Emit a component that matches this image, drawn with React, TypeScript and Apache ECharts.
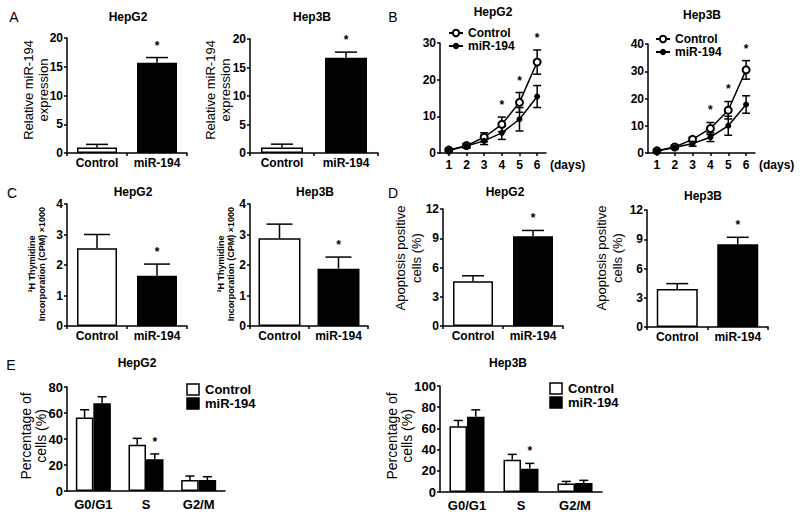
import React, { useEffect, useRef } from "react";
import * as echarts from "echarts";

const FF = "'Liberation Sans', Arial, sans-serif";

// ---------- data ----------
const groups = ["Control", "miR-194"];
// A: relative miR-194 expression
const aHepG2Mean = [0.95, 15.7];
const aHepG2Err = [0.55, 0.9];
const aHepG2Star = [0, 1];
const aHep3BMean = [0.95, 16.7];
const aHep3BErr = [0.6, 1.0];
const aHep3BStar = [0, 1];
// B: cell growth
const days = [1, 2, 3, 4, 5, 6];
const bHepG2Ctrl = [0.8, 2.0, 4.3, 7.8, 13.8, 24.8];
const bHepG2CtrlErr = [0.3, 0.6, 1.2, 2.0, 2.7, 3.3];
const bHepG2Mir = [0.7, 1.9, 3.3, 5.5, 9.2, 15.4];
const bHepG2MirErr = [0.3, 0.5, 1.0, 1.8, 3.2, 3.0];
const bHepG2Star = [0, 0, 0, 1, 1, 1];
const bHep3BCtrl = [0.8, 2.2, 5.0, 9.0, 15.7, 30.5];
const bHep3BCtrlErr = [0.3, 0.6, 0.8, 2.2, 3.2, 3.4];
const bHep3BMir = [0.7, 2.0, 3.5, 5.8, 10.0, 17.8];
const bHep3BMirErr = [0.3, 0.5, 1.0, 1.6, 3.5, 3.2];
const bHep3BStar = [0, 0, 0, 1, 1, 1];
// C: 3H thymidine incorporation
const cHepG2Mean = [2.55, 1.65];
const cHepG2Err = [0.45, 0.38];
const cHepG2Star = [0, 1];
const cHep3BMean = [2.88, 1.88];
const cHep3BErr = [0.46, 0.38];
const cHep3BStar = [0, 1];
// D: apoptosis
const dHepG2Mean = [4.6, 9.2];
const dHepG2Err = [0.55, 0.6];
const dHepG2Star = [0, 1];
const dHep3BMean = [3.9, 8.5];
const dHep3BErr = [0.55, 0.7];
const dHep3BStar = [0, 1];
// E: cell cycle
const phases = ["G0/G1", "S", "G2/M"];
const eHepG2Ctrl = [56.5, 35.5, 8.5];
const eHepG2CtrlErr = [6, 5, 3];
const eHepG2Mir = [67.5, 24.5, 8.5];
const eHepG2MirErr = [5, 4, 2.5];
const eHepG2Star = [0, 1, 0];
const eHep3BCtrl = [62, 30.5, 8];
const eHep3BCtrlErr = [5.5, 5, 2];
const eHep3BMir = [71, 22, 8.5];
const eHep3BMirErr = [6.5, 5, 2.5];
const eHep3BStar = [0, 1, 0];

// ---------- helpers ----------
const whiteBar = { color: "#fff", borderColor: "#000", borderWidth: 1.5 };
const blackBar = { color: "#000", borderColor: "#000", borderWidth: 1.5 };
const axLine = { show: true, lineStyle: { color: "#000", width: 1.5 } };
const axTick = { show: true, length: 3, lineStyle: { color: "#000", width: 1.5 } };

const mkErr = (offset: number, cap: number, both: boolean, gap: number) => (params: any, api: any) => {
  const xv = api.value(0);
  const v = api.value(1);
  const e = api.value(2);
  const s = api.value(3);
  const p = api.coord([xv, v]);
  const t = api.coord([xv, v + e]);
  const b = api.coord([xv, v - e]);
  const x = p[0] + offset;
  const st = { stroke: "#000", lineWidth: 1.5 };
  const ch: any[] = [
    { type: "line", shape: { x1: x, y1: both ? b[1] : p[1], x2: x, y2: t[1] }, style: st },
    { type: "line", shape: { x1: x - cap, y1: t[1], x2: x + cap, y2: t[1] }, style: st },
  ];
  if (both) ch.push({ type: "line", shape: { x1: x - cap, y1: b[1], x2: x + cap, y2: b[1] }, style: st });
  if (s) {
    ch.push({
      type: "text",
      x,
      y: t[1] - gap,
      style: { text: "*", fill: "#000", font: `bold 12px ${FF}`, align: "center", verticalAlign: "middle" },
    });
  }
  return { type: "group", children: ch };
};

const catX = (gi: number, data: string[], fontSize = 12, margin = 4, tick = true) => ({
  type: "category",
  gridIndex: gi,
  data,
  axisLine: axLine,
  axisTick: { ...axTick, show: tick },
  axisLabel: { color: "#000", fontWeight: "bold", fontSize, fontFamily: FF, margin, interval: 0 },
  splitLine: { show: false },
});

const valY = (gi: number, max: number, interval: number, fontSize = 12) => ({
  type: "value",
  gridIndex: gi,
  min: 0,
  max,
  interval,
  axisLine: axLine,
  axisTick: axTick,
  axisLabel: { color: "#000", fontWeight: "bold", fontSize, fontFamily: FF, margin: 4 },
  splitLine: { show: false },
});

const dayX = (gi: number) => ({
  type: "value",
  gridIndex: gi,
  min: 0.5,
  max: 6.5,
  name: "(days)",
  nameLocation: "end",
  nameGap: 4,
  nameTextStyle: { color: "#000", fontWeight: "bold", fontSize: 12, fontFamily: FF, verticalAlign: "top", padding: [6, 0, 0, 0] },
  axisLine: axLine,
  axisTick: { ...axTick, customValues: days },
  axisLabel: { color: "#000", fontWeight: "bold", fontSize: 12, fontFamily: FF, margin: 6, customValues: days },
  splitLine: { show: false },
});

const singleBars = (gi: number, mean: number[], err: number[], star: number[], bw: number, cap: number) => [
  {
    type: "bar",
    name: "bars" + gi,
    xAxisIndex: gi,
    yAxisIndex: gi,
    barWidth: bw,
    z: 2,
    silent: true,
    data: mean.map((v, i) => ({ value: v, itemStyle: i === 0 ? whiteBar : blackBar })),
  },
  {
    type: "custom",
    name: "err" + gi,
    xAxisIndex: gi,
    yAxisIndex: gi,
    z: 3,
    silent: true,
    encode: { x: 0, y: 1 },
    renderItem: mkErr(0, cap, false, 12),
    data: mean.map((v, i) => [i, v, err[i], star[i]]),
  },
];

const lineSeries = (gi: number, ctrl: number[], ctrlErr: number[], mir: number[], mirErr: number[], star: number[]) => [
  {
    type: "custom",
    name: "errC" + gi,
    xAxisIndex: gi,
    yAxisIndex: gi,
    z: 2,
    silent: true,
    encode: { x: 0, y: 1 },
    renderItem: mkErr(0, 4, true, 12),
    data: days.map((d, i) => [d, ctrl[i], ctrlErr[i], star[i]]),
  },
  {
    type: "custom",
    name: "errM" + gi,
    xAxisIndex: gi,
    yAxisIndex: gi,
    z: 2,
    silent: true,
    encode: { x: 0, y: 1 },
    renderItem: mkErr(0, 4, true, 12),
    data: days.map((d, i) => [d, mir[i], mirErr[i], 0]),
  },
  {
    type: "line",
    name: "Control",
    xAxisIndex: gi,
    yAxisIndex: gi,
    z: 3,
    silent: true,
    symbol: "emptyCircle",
    symbolSize: 7,
    lineStyle: { color: "#000", width: 1.5 },
    itemStyle: { color: "#000", borderColor: "#000", borderWidth: 1.5 },
    data: days.map((d, i) => [d, ctrl[i]]),
  },
  {
    type: "line",
    name: "miR-194",
    xAxisIndex: gi,
    yAxisIndex: gi,
    z: 3,
    silent: true,
    symbol: "circle",
    symbolSize: 6,
    lineStyle: { color: "#000", width: 1.5 },
    itemStyle: { color: "#000" },
    data: days.map((d, i) => [d, mir[i]]),
  },
];

const groupedBars = (gi: number, ctrl: number[], ctrlErr: number[], mir: number[], mirErr: number[], star: number[], bw: number) => [
  {
    type: "bar",
    name: "eCtrl" + gi,
    xAxisIndex: gi,
    yAxisIndex: gi,
    barWidth: bw,
    barGap: "0%",
    z: 2,
    silent: true,
    itemStyle: whiteBar,
    data: ctrl,
  },
  {
    type: "bar",
    name: "eMir" + gi,
    xAxisIndex: gi,
    yAxisIndex: gi,
    barWidth: bw,
    barGap: "0%",
    z: 2,
    silent: true,
    itemStyle: blackBar,
    data: mir,
  },
  {
    type: "custom",
    name: "eErrC" + gi,
    xAxisIndex: gi,
    yAxisIndex: gi,
    z: 3,
    silent: true,
    encode: { x: 0, y: 1 },
    renderItem: mkErr(-bw / 2, 4.5, false, 12),
    data: ctrl.map((v, i) => [i, v, ctrlErr[i], 0]),
  },
  {
    type: "custom",
    name: "eErrM" + gi,
    xAxisIndex: gi,
    yAxisIndex: gi,
    z: 3,
    silent: true,
    encode: { x: 0, y: 1 },
    renderItem: mkErr(bw / 2, 4.5, false, 12),
    data: mir.map((v, i) => [i, v, mirErr[i], star[i]]),
  },
];

const txt = (x: number, y: number, text: string, font: string, rotation = 0, lineHeight?: number, align = "center") => ({
  type: "text",
  x,
  y,
  rotation,
  silent: true,
  style: {
    text,
    fill: "#000",
    font,
    align,
    verticalAlign: "middle",
    textAlign: align,
    textVerticalAlign: "middle",
    lineHeight,
  },
});

const legendOpt = (left: number, top: number) => ({
  data: ["Control", "miR-194"],
  orient: "vertical",
  left,
  top,
  padding: 0,
  itemWidth: 14,
  itemHeight: 8,
  itemGap: 1,
  selectedMode: false,
  textStyle: { color: "#000", fontWeight: "bold", fontSize: 12, fontFamily: FF, lineHeight: 11 },
});

export default function App() {
  const ref = useRef<HTMLDivElement>(null);
  useEffect(() => {
    if (!ref.current) return;
    const chart = echarts.init(ref.current, null, { renderer: "svg" });
    const R = Math.PI / 2;
    const titleFont = `bold 12px ${FF}`;
    const letterFont = `normal 14px ${FF}`;
    const option: any = {
      animation: false,
      backgroundColor: "#fff",
      grid: [
        { left: 67, top: 38, width: 120, height: 115 },
        { left: 250, top: 39, width: 128, height: 114 },
        { left: 440, top: 43, width: 106, height: 110 },
        { left: 648, top: 44, width: 107, height: 109 },
        { left: 67, top: 204, width: 120, height: 122 },
        { left: 250, top: 204, width: 118, height: 122 },
        { left: 443, top: 209, width: 120, height: 117 },
        { left: 647, top: 210, width: 121, height: 117 },
        { left: 67, top: 387, width: 158, height: 104 },
        { left: 440, top: 386, width: 162, height: 106 },
      ],
      xAxis: [
        catX(0, groups),
        catX(1, groups),
        dayX(2),
        dayX(3),
        catX(4, groups),
        catX(5, groups),
        catX(6, groups),
        catX(7, groups),
        catX(8, phases, 13, 7, false),
        catX(9, phases, 13, 7, false),
      ],
      yAxis: [
        valY(0, 20, 5),
        valY(1, 20, 5),
        valY(2, 30, 10),
        valY(3, 40, 10),
        valY(4, 4, 1),
        valY(5, 4, 1),
        valY(6, 12, 3),
        valY(7, 12, 3),
        valY(8, 80, 20, 13),
        valY(9, 100, 20, 13),
      ],
      legend: [legendOpt(448, 27), legendOpt(655, 33)],
      series: [
        ...lineSeries(2, bHepG2Ctrl, bHepG2CtrlErr, bHepG2Mir, bHepG2MirErr, bHepG2Star),
        ...lineSeries(3, bHep3BCtrl, bHep3BCtrlErr, bHep3BMir, bHep3BMirErr, bHep3BStar),
        ...singleBars(0, aHepG2Mean, aHepG2Err, aHepG2Star, 40, 11),
        ...singleBars(1, aHep3BMean, aHep3BErr, aHep3BStar, 42, 11),
        ...singleBars(4, cHepG2Mean, cHepG2Err, cHepG2Star, 40, 13),
        ...singleBars(5, cHep3BMean, cHep3BErr, cHep3BStar, 42, 13),
        ...singleBars(6, dHepG2Mean, dHepG2Err, dHepG2Star, 40, 11),
        ...singleBars(7, dHep3BMean, dHep3BErr, dHep3BStar, 41, 11),
        ...groupedBars(8, eHepG2Ctrl, eHepG2CtrlErr, eHepG2Mir, eHepG2MirErr, eHepG2Star, 17.5),
        ...groupedBars(9, eHep3BCtrl, eHep3BCtrlErr, eHep3BMir, eHep3BMirErr, eHep3BStar, 17.5),
      ],
      graphic: [
        // panel letters
        txt(14, 17, "A", letterFont),
        txt(393, 17, "B", letterFont),
        txt(12, 193, "C", letterFont),
        txt(393, 193, "D", letterFont),
        txt(11, 365, "E", letterFont),
        // titles
        txt(128, 17, "HepG2", titleFont),
        txt(312, 17, "Hep3B", titleFont),
        txt(493, 12, "HepG2", titleFont),
        txt(702, 15, "Hep3B", titleFont),
        txt(133, 192, "HepG2", titleFont),
        txt(315, 192, "Hep3B", titleFont),
        txt(505, 192, "HepG2", titleFont),
        txt(703, 196, "Hep3B", titleFont),
        txt(137, 363, "HepG2", titleFont),
        txt(508, 363, "Hep3B", titleFont),
        // y-axis names
        txt(35.5, 90, "Relative miR-194\nexpression", `normal 13px ${FF}`, R, 15),
        txt(218, 90, "Relative miR-194\nexpression", `normal 13px ${FF}`, R, 15),
        txt(37, 264, "³H Thymidine\nIncorporation (CPM) ×1000", `bold 9px ${FF}`, R, 10),
        txt(226, 264, "³H Thymidine\nIncorporation (CPM) ×1000", `bold 9px ${FF}`, R, 10),
        txt(408, 258, "Apoptosis positive\ncells (%)", `normal 13px ${FF}`, R, 16),
        txt(609, 258, "Apoptosis positive\ncells (%)", `normal 13px ${FF}`, R, 16),
        txt(33.5, 436, "Percentage of\ncells (%)", `normal 14px ${FF}`, R, 15),
        txt(399.5, 436, "Percentage of\ncells (%)", `normal 14px ${FF}`, R, 15),
        // E legends
        { type: "rect", shape: { x: 187, y: 384, width: 12, height: 11 }, style: { fill: "#fff", stroke: "#000", lineWidth: 1.5 } },
        { type: "rect", shape: { x: 187, y: 398, width: 12, height: 11 }, style: { fill: "#000", stroke: "#000", lineWidth: 1.5 } },
        txt(205, 389.5, "Control", `bold 13px ${FF}`, 0, undefined, "left"),
        txt(205, 403.5, "miR-194", `bold 13px ${FF}`, 0, undefined, "left"),
        { type: "rect", shape: { x: 550, y: 383, width: 12, height: 11 }, style: { fill: "#fff", stroke: "#000", lineWidth: 1.5 } },
        { type: "rect", shape: { x: 550, y: 397, width: 12, height: 11 }, style: { fill: "#000", stroke: "#000", lineWidth: 1.5 } },
        txt(568, 388.5, "Control", `bold 13px ${FF}`, 0, undefined, "left"),
        txt(568, 402.5, "miR-194", `bold 13px ${FF}`, 0, undefined, "left"),
      ],
    };
    chart.setOption(option);
    return () => chart.dispose();
  }, []);
  return (
    <div
      ref={ref}
      style={{ position: "absolute", left: 0, top: 0, width: 800, height: 517, background: "#fff" }}
    />
  );
}
